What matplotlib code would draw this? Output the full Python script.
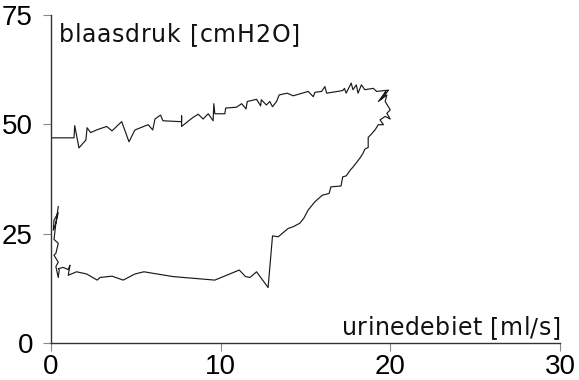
import matplotlib
matplotlib.use("Agg")
import matplotlib.pyplot as plt

# druk-debiet lus (start linksonder, eindigt linksboven)
debiet = [0.43, 0.29, 0.43, 0.18, 0.14, 0.29, 0.18, 0.43, 0.29, 0.18, 0.43, 0.29, 0.43,
          0.49, 0.43, 0.72, 1.02, 1.12, 1.02, 1.51, 2.1, 2.73, 2.89, 3.6, 4.26, 4.95, 5.48,
          7.2, 9.66, 11.1, 11.47, 11.73, 12.12, 12.8, 13.06, 13.4, 13.98, 14.28, 14.67,
          14.9, 15.16, 15.56, 16.0, 16.4, 16.5, 17.1, 17.2, 17.4, 17.66, 17.8, 18.2, 18.4,
          18.5, 18.7, 18.7, 18.9, 19.1, 19.3, 19.6, 19.4, 19.7, 20.0, 19.8, 20.0, 19.7,
          19.8, 19.3, 19.74, 19.5, 19.9, 19.2, 19.0, 18.5, 18.3, 18.1, 18.0, 17.8, 17.7,
          17.4, 17.3, 17.2, 16.25, 16.15, 15.95, 15.56, 15.46, 15.16, 14.28, 13.93, 13.45,
          13.3, 13.06, 12.9, 12.7, 12.4, 12.36, 12.12, 11.57, 11.5, 11.24, 10.94, 10.3,
          10.25, 9.66, 9.6, 9.56, 9.27, 8.97, 8.68, 8.35, 7.7, 7.7, 7.7, 7.6, 6.6, 6.46,
          6.13, 6.0, 5.73, 4.95, 4.6, 4.17, 3.6, 3.28, 2.69, 2.34, 2.13, 2.06, 1.65, 1.4,
          1.36, 0.0]
blaasdruk = [31.2, 27.4, 29.8, 28.1, 25.8, 27.4, 23.7, 22.8, 20.5, 20.1, 18.5, 17.5, 15.0,
             16.7, 17.0, 17.3, 16.8, 17.8, 15.5, 16.3, 15.8, 14.4, 15.0, 15.3, 14.4, 15.8,
             16.3, 15.2, 14.4, 16.7, 15.2, 15.0, 16.3, 12.7, 24.5, 24.3, 26.2, 26.6, 27.4,
             28.5, 30.4, 32.3, 33.8, 34.2, 35.7, 35.9, 38.0, 38.2, 39.6, 40.2, 42.2, 43.4,
             44.3, 44.7, 47.0, 47.8, 48.7, 49.9, 49.9, 51.0, 51.8, 51.2, 52.5, 53.3, 55.2,
             56.7, 55.2, 57.5, 55.8, 57.8, 57.5, 58.2, 57.9, 59.0, 57.1, 59.0, 57.9, 59.4,
             57.1, 58.2, 57.7, 57.1, 58.6, 57.5, 57.3, 56.3, 57.5, 56.5, 57.1, 56.7, 55.2,
             54.0, 55.2, 54.4, 55.6, 54.2, 55.7, 55.2, 53.5, 54.7, 53.9, 53.7, 52.4, 52.4,
             54.7, 50.8, 52.4, 51.2, 52.3, 51.5, 49.5, 51.9, 50.6, 50.6, 50.8, 52.1, 51.2,
             48.7, 49.9, 48.7, 46.0, 50.6, 48.5, 49.5, 48.7, 48.1, 49.2, 46.4, 44.6, 49.7,
             46.9, 46.9]

xticks = [0, 10, 20, 30]
yticks = [0, 25, 50, 75]
ylabel = 'blaasdruk [cmH2O]'
xlabel = 'urinedebiet [ml/s]'

plt.rcParams['font.family'] = ['Liberation Sans', 'DejaVu Sans']

W, H = 579, 380
fig = plt.figure(figsize=(W / 100, H / 100), dpi=100)
ax = fig.add_axes([0.088, 0.097, 0.879, 0.864])

ax.plot(debiet, blaasdruk, color='#1a1a1a', lw=0.85)

ax.set_xlim(0, 30)
ax.set_ylim(0, 75)
ax.set_xticks(xticks)
ax.set_yticks(yticks)
ax.tick_params(labelsize=20, length=6, width=0.8, color='#888888')
ax.tick_params(axis='x', pad=2)
ax.tick_params(axis='y', pad=7)
for s in ['top', 'right']:
    ax.spines[s].set_visible(False)
for s in ['left', 'bottom']:
    ax.spines[s].set_color('#333333')
    ax.spines[s].set_linewidth(1.0)


def breedte(s, size, r):
    t = fig.text(0, 0, s, fontsize=size, family='DejaVu Sans')
    w = t.get_window_extent(r).width
    t.remove()
    return w


# tekst met wat extra letterafstand, zoals in het origineel
def gespatieerd(s, x0, x1, y, size=17):
    r = fig.canvas.get_renderer()
    basis = breedte('||', size, r)
    adv = [breedte('|' + c + '|', size, r) - basis for c in s]
    extra = (x1 - x0 - sum(adv[:-1]) - breedte(s[-1], size, r)) / (len(s) - 1)
    x = x0
    for c, a in zip(s, adv):
        fig.text(x / W, 1 - y / H, c, fontsize=size, family='DejaVu Sans',
                 ha='left', va='baseline', color='#111111')
        x += a + extra


gespatieerd(ylabel, 58.5, 300, 41.7)
gespatieerd(xlabel, 341.7, 560.7, 335)

fig.savefig('out.png', dpi=100)
